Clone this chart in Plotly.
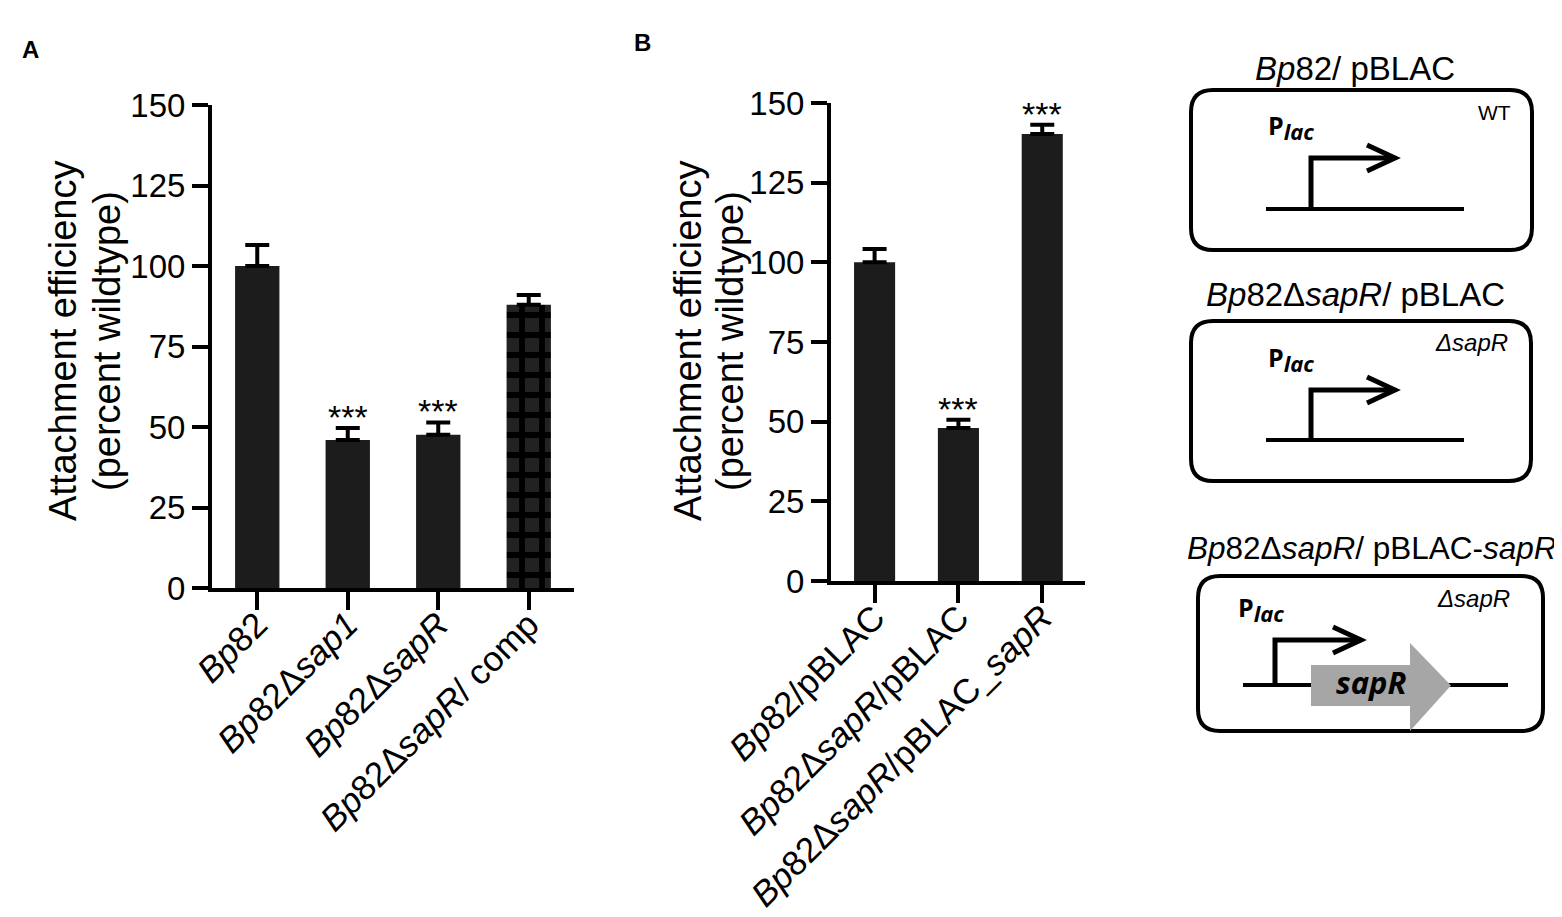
import plotly.graph_objects as go

W, H = 1562, 917

# panel A data
strains_a = ['<i>Bp</i>82', '<i>Bp</i>82Δ<i>sap1</i>', '<i>Bp</i>82Δ<i>sapR</i>', '<i>Bp</i>82Δ<i>sapR</i>/ comp']
attach_a = [100, 46, 47.6, 88]
sem_a = [6.5, 3.7, 3.8, 3.0]
stars_a = ['', '***', '***', '']

# panel B data
strains_b = ['<i>Bp</i>82/pBLAC', '<i>Bp</i>82Δ<i>sapR</i>/pBLAC', '<i>Bp</i>82Δ<i>sapR</i>/pBLAC_<i>sapR</i>']
attach_b = [100, 48, 140.3]
sem_b = [4.2, 2.6, 2.9]
stars_b = ['', '***', '***']

yticks = [0, 25, 50, 75, 100, 125, 150]

FONT = 'Liberation Sans, Arial, sans-serif'
BOLD = 'Open Sans, Liberation Sans, sans-serif'


def px(x):
    return x / W


def py(y):
    return 1 - y / H


def label(x, y, text, size, family=FONT, **kw):
    d = dict(x=px(x), y=py(y), xref='paper', yref='paper', text=text, showarrow=False,
             xanchor='center', yanchor='middle', font=dict(family=family, size=size, color='black'))
    d.update(kw)
    return d


fig = go.Figure()

fig.add_trace(go.Bar(
    x=list(range(len(attach_a))), y=attach_a, width=0.49,
    marker=dict(color='#1c1c1c', line=dict(width=0),
                pattern=dict(shape=['', '', '', '+'], fgcolor='#000000', bgcolor='#222222',
                             fgopacity=1, size=20, solidity=0.5)),
    error_y=dict(type='data', array=sem_a, arrayminus=[0] * len(sem_a), symmetric=False,
                 thickness=4, width=12, color='black'),
    xaxis='x', yaxis='y'))

fig.add_trace(go.Bar(
    x=list(range(len(attach_b))), y=attach_b, width=0.49,
    marker=dict(color='#1c1c1c', line=dict(width=0)),
    error_y=dict(type='data', array=sem_b, arrayminus=[0] * len(sem_b), symmetric=False,
                 thickness=4, width=12, color='black'),
    xaxis='x2', yaxis='y2'))

line_style = dict(showline=True, linewidth=4, linecolor='black', showgrid=False, zeroline=False,
                  ticks='outside', tickwidth=4, tickcolor='black', automargin=False)
xfont = dict(family=FONT, size=35, color='black')
yfont = dict(family=FONT, size=33, color='black')

fig.update_layout(
    width=W, height=H, margin=dict(l=0, r=0, t=0, b=0, autoexpand=False),
    paper_bgcolor='white', plot_bgcolor='white', showlegend=False,
    xaxis=dict(domain=[px(204), px(566)], range=[-0.5, 3.5], tickvals=list(range(len(strains_a))),
               ticktext=strains_a, tickangle=-45, ticklen=18, anchor='y', tickfont=xfont,
               ticklabelstandoff=-20, **line_style),
    yaxis=dict(domain=[py(580), py(97)], range=[0, 150], tickvals=yticks, ticklen=16, anchor='x',
               tickfont=yfont, **line_style),
    xaxis2=dict(domain=[px(823), px(1077)], range=[-0.52, 2.51], tickvals=list(range(len(strains_b))),
                ticktext=strains_b, tickangle=-45, ticklen=18, anchor='y2', tickfont=xfont,
                ticklabelstandoff=-20, **line_style),
    yaxis2=dict(domain=[py(573), py(95)], range=[0, 150], tickvals=yticks, ticklen=16, anchor='x2',
                tickfont=yfont, **line_style),
)

ann = []
# significance stars
for i, s in enumerate(stars_a):
    if s:
        ann.append(dict(x=i, y=attach_a[i] + sem_a[i], xref='x', yref='y', text=s, showarrow=False,
                        yanchor='bottom', yshift=-10, font=dict(family=FONT, size=34, color='black')))
for i, s in enumerate(stars_b):
    if s:
        ann.append(dict(x=i, y=attach_b[i] + sem_b[i], xref='x2', yref='y2', text=s, showarrow=False,
                        yanchor='bottom', yshift=-10, font=dict(family=FONT, size=34, color='black')))

# y axis titles, one annotation per line
for x1, x2 in [(55, 99), (680, 722)]:
    ann.append(label(x1, 333, 'Attachment efficiency', 38, textangle=-90))
    ann.append(label(x2, 333, '(percent wildtype)', 38, textangle=-90))

# panel letters
ann.append(label(22, 42, '<b>A</b>', 24))
ann.append(label(634, 35, '<b>B</b>', 24))

# plasmid diagrams (pixel coordinates)
boxes = [
    dict(box=(1183, 82, 1524, 242), title='<i>Bp</i>82/ pBLAC', title_xy=(1347, 60), title_size=33,
         tag='WT', tag_xy=(1486, 105), tag_size=21, p_xy=(1258, 119), prom_x=1303, base_y=201,
         top_y=150, tip_x=1387, base=(1258, 1456), gene=None),
    dict(box=(1183, 313, 1523, 473), title='<i>Bp</i>82Δ<i>sapR</i>/ pBLAC', title_xy=(1347, 287),
         title_size=33, tag='<i>ΔsapR</i>', tag_xy=(1463, 335), tag_size=24, p_xy=(1258, 351),
         prom_x=1303, base_y=432, top_y=382, tip_x=1387, base=(1258, 1456), gene=None),
    dict(box=(1190, 568, 1535, 723), title='<i>Bp</i>82Δ<i>sapR</i>/ pBLAC-<i>sapR</i>',
         title_xy=(1364, 540), title_size=31.5, tag='<i>ΔsapR</i>', tag_xy=(1465, 590), tag_size=24,
         p_xy=(1228, 601), prom_x=1267, base_y=677, top_y=632, tip_x=1353, base=(1235, 1500),
         gene=(1303, 1402, 1443, 657, 698, 635, 723)),
]


def pt(x, y):
    return f'{px(x):.5f},{py(y):.5f}'


shapes = []
for b in boxes:
    x0, y0, x1, y1 = b['box']
    r = 22
    path = (f'M {pt(x0 + r, y0)} L {pt(x1 - r, y0)} Q {pt(x1, y0)} {pt(x1, y0 + r)} '
            f'L {pt(x1, y1 - r)} Q {pt(x1, y1)} {pt(x1 - r, y1)} L {pt(x0 + r, y1)} '
            f'Q {pt(x0, y1)} {pt(x0, y1 - r)} L {pt(x0, y0 + r)} Q {pt(x0, y0)} {pt(x0 + r, y0)} Z')
    shapes.append(dict(type='path', path=path, xref='paper', yref='paper',
                       line=dict(color='black', width=4)))
    # backbone
    bx0, bx1 = b['base']
    shapes.append(dict(type='line', xref='paper', yref='paper', x0=px(bx0), x1=px(bx1),
                       y0=py(b['base_y']), y1=py(b['base_y']), line=dict(color='black', width=4)))
    # gene arrow
    if b['gene']:
        gx0, gx1, gtip, gy0, gy1, hy0, hy1 = b['gene']
        gy = (gy0 + gy1) / 2
        gpath = (f'M {pt(gx0, gy0)} L {pt(gx1, gy0)} L {pt(gx1, hy0)} L {pt(gtip, gy)} '
                 f'L {pt(gx1, hy1)} L {pt(gx1, gy1)} L {pt(gx0, gy1)} Z')
        shapes.append(dict(type='path', path=gpath, xref='paper', yref='paper',
                           fillcolor='#a6a6a6', line=dict(width=0)))
        ann.append(label(1363, 674, '<b><i>sapR</i></b>', 31, family=BOLD))
    # promoter arrow
    prx, ty, tip = b['prom_x'], b['top_y'], b['tip_x']
    ppath = f'M {pt(prx, b["base_y"])} L {pt(prx, ty)} L {pt(tip, ty)}'
    shapes.append(dict(type='path', path=ppath, xref='paper', yref='paper',
                       line=dict(color='black', width=5)))
    hpath = f'M {pt(tip - 28, ty - 13)} L {pt(tip, ty)} L {pt(tip - 28, ty + 13)}'
    shapes.append(dict(type='path', path=hpath, xref='paper', yref='paper',
                       line=dict(color='black', width=5)))
    # texts
    ann.append(label(*b['title_xy'], b['title'], b['title_size']))
    ann.append(label(*b['tag_xy'], b['tag'], b['tag_size']))
    ann.append(label(*b['p_xy'], "<b>P</b><sub><b><i><span style='font-size:22px'>lac</span></i></b></sub>",
                     25, family=BOLD, xanchor='left'))

fig.update_layout(shapes=shapes, annotations=ann)

fig.write_html('out.html')
